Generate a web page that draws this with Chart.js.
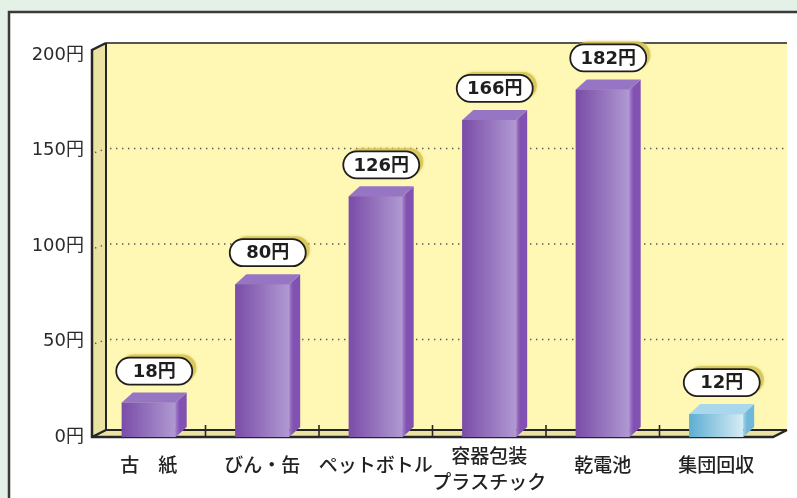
<!DOCTYPE html>
<html>
<head>
<meta charset="utf-8">
<script src="https://cdn.jsdelivr.net/npm/chart.js@4.4.0/dist/chart.umd.min.js"></script>
<style>
    html, body { margin: 0; padding: 0; background: #e3f1e7; }
    #wrap { width: 797px; height: 498px; }
</style>
</head>
<body>
<div id="wrap"><canvas id="RecycleCostChart" width="797" height="498"></canvas></div>
<script>
// data
var categories = ['古　紙', 'びん・缶', 'ペットボトル', ['容器包装', 'プラスチック'], '乾電池', '集団回収'];
var values = [18, 80, 126, 166, 182, 12];
var yTicks = [0, 50, 100, 150, 200];
var barKinds = ['purple', 'purple', 'purple', 'purple', 'purple', 'blue'];

var JP = '"Noto Sans CJK JP", "Noto Sans", sans-serif';
var NUM = '"DejaVu Sans", "Noto Sans CJK JP", sans-serif';
var DX = 14, DY = -7;     // depth of the box
var BDX = 11, BDY = -10;  // depth of the bars

var palette = {
    purple: { left: '#7a4ca8', right: '#b09ad2', side: '#8252b2', sideLight: '#a27ccb', top: '#9676c4' },
    blue: { left: '#5eaed4', right: '#d6ecf4', side: '#70b8da', sideLight: '#9ed2e8', top: '#a9d8ec' }
};

function poly(ctx, pts) {
    ctx.beginPath();
    ctx.moveTo(pts[0][0], pts[0][1]);
    for (var i = 1; i < pts.length; i++) ctx.lineTo(pts[i][0], pts[i][1]);
    ctx.closePath();
}

function pill(ctx, x, y, w, h) {
    var r = h / 2;
    ctx.beginPath();
    ctx.moveTo(x + r, y);
    ctx.lineTo(x + w - r, y);
    ctx.arc(x + w - r, y + r, r, -Math.PI / 2, Math.PI / 2);
    ctx.lineTo(x + r, y + h);
    ctx.arc(x + r, y + r, r, Math.PI / 2, Math.PI * 1.5);
    ctx.closePath();
}

var box3d = {
    id: 'box3d',
    beforeDraw: function (chart) {
        var ctx = chart.ctx, a = chart.chartArea;
        var yScale = chart.scales.y;
        var L = a.left, R = a.right, B = a.bottom, T = a.top - 5;
        ctx.save();
        // page background and white panel
        ctx.fillStyle = '#e3f1e7';
        ctx.fillRect(0, 0, chart.width, chart.height);
        ctx.fillStyle = '#ffffff';
        ctx.fillRect(9, 12, chart.width, chart.height);
        ctx.strokeStyle = '#3a3a3a';
        ctx.lineWidth = 2.5;
        ctx.beginPath();
        ctx.moveTo(9, chart.height + 2);
        ctx.lineTo(9, 12);
        ctx.lineTo(chart.width + 2, 12);
        ctx.stroke();

        // back wall
        ctx.fillStyle = '#fff8b4';
        ctx.fillRect(L + DX, T + DY, R - L, B - T);
        // left wall
        ctx.fillStyle = '#ebe3a2';
        poly(ctx, [[L, T], [L + DX, T + DY], [L + DX, B + DY], [L, B]]);
        ctx.fill();
        // floor
        poly(ctx, [[L, B], [L + DX, B + DY], [R + DX, B + DY], [R, B]]);
        ctx.fill();

        // dotted grid on the back wall
        ctx.strokeStyle = '#555';
        ctx.lineWidth = 1.4;
        ctx.setLineDash([1.4, 4.6]);
        yTicks.forEach(function (v) {
            if (v === 0 || v === 200) return;
            var y = yScale.getPixelForValue(v);
            ctx.beginPath();
            ctx.moveTo(L + DX + 4, y - 2);
            ctx.lineTo(R + DX, y - 2);
            ctx.stroke();
            ctx.beginPath();
            ctx.moveTo(L + 3, y + 2);
            ctx.lineTo(L + DX - 2, y - 1);
            ctx.stroke();
        });
        ctx.setLineDash([]);

        // edges
        ctx.strokeStyle = '#555';
        ctx.lineWidth = 2;
        ctx.beginPath();
        ctx.moveTo(R + DX, T + DY);
        ctx.lineTo(L + DX, T + DY);
        ctx.stroke();
        ctx.strokeStyle = '#262626';
        ctx.beginPath();
        ctx.moveTo(L + DX, T + DY);
        ctx.lineTo(L + DX, B + DY);
        ctx.lineTo(R + DX, B + DY);
        ctx.stroke();
        ctx.lineWidth = 2.5;
        ctx.beginPath();
        ctx.moveTo(L + DX, T + DY);
        ctx.lineTo(L, T);
        ctx.lineTo(L, B);
        ctx.lineTo(R, B);
        ctx.lineTo(R + DX, B + DY);
        ctx.moveTo(L, B);
        ctx.lineTo(L + DX, B + DY);
        ctx.stroke();

        // category ticks on the floor
        ctx.lineWidth = 1.6;
        var step = (R - L) / categories.length;
        for (var i = 1; i < categories.length; i++) {
            var x = L + i * step;
            ctx.beginPath();
            ctx.moveTo(x, B + DY - 5);
            ctx.lineTo(x, B);
            ctx.stroke();
        }
        ctx.restore();
    },
    afterDatasetsDraw: function (chart) {
        var ctx = chart.ctx;
        var meta = chart.getDatasetMeta(0);
        ctx.save();
        meta.data.forEach(function (bar, i) {
            var p = bar.getProps(['x', 'y', 'base', 'width'], true);
            var c = palette[barKinds[i]];
            var x0 = p.x - p.width / 2, x1 = p.x + p.width / 2, top = p.y, bot = p.base;

            var g = ctx.createLinearGradient(x0, 0, x1, 0);
            g.addColorStop(0, c.left);
            g.addColorStop(1, c.right);
            ctx.fillStyle = g;
            ctx.fillRect(x0, top, x1 - x0, bot - top);

            var gs = ctx.createLinearGradient(x1, 0, x1 + BDX, 0);
            gs.addColorStop(0, c.sideLight);
            gs.addColorStop(0.35, c.side);
            gs.addColorStop(1, c.side);
            ctx.fillStyle = gs;
            poly(ctx, [[x1, top], [x1 + BDX, top + BDY], [x1 + BDX, bot + BDY], [x1, bot]]);
            ctx.fill();

            ctx.fillStyle = c.top;
            poly(ctx, [[x0, top], [x0 + BDX, top + BDY], [x1 + BDX, top + BDY], [x1, top]]);
            ctx.fill();

            // value label in a pill
            var w = 76, h = 27;
            var bx = p.x + BDX / 2 - w / 2;
            var by = top + BDY - 8 - h;
            ctx.save();
            ctx.fillStyle = 'rgba(214, 196, 86, 0.85)';
            ctx.shadowColor = 'rgba(214, 196, 86, 0.8)';
            ctx.shadowBlur = 3;
            pill(ctx, bx + 4, by - 3, w, h);
            ctx.fill();
            ctx.restore();
            ctx.fillStyle = '#ffffff';
            ctx.strokeStyle = '#1e1e1e';
            ctx.lineWidth = 1.8;
            pill(ctx, bx, by, w, h);
            ctx.fill();
            ctx.stroke();
            ctx.fillStyle = '#1e1e1e';
            ctx.font = 'bold 18px ' + NUM;
            ctx.textAlign = 'center';
            ctx.textBaseline = 'middle';
            ctx.fillText(values[i] + '円', bx + w / 2, by + h / 2 + 1);
        });
        ctx.restore();
    },
    afterDraw: function (chart) {
        // category names under the floor
        var ctx = chart.ctx, xScale = chart.scales.x;
        ctx.save();
        ctx.fillStyle = '#222';
        ctx.font = '500 19px ' + JP;
        ctx.textAlign = 'center';
        ctx.textBaseline = 'middle';
        categories.forEach(function (label, i) {
            var x = xScale.getPixelForTick(i);
            if (Array.isArray(label)) {
                ctx.fillText(label[0], x, 456);
                ctx.fillText(label[1], x, 482);
            } else {
                ctx.fillText(label, x, 465);
            }
        });
        ctx.restore();
    }
};

new Chart(document.getElementById('RecycleCostChart'), {
    type: 'bar',
    data: {
        labels: categories,
        datasets: [
            {
                data: values,
                backgroundColor: barKinds.map(function (k) { return palette[k].left; }),
                borderWidth: 0,
                categoryPercentage: 1,
                barPercentage: 0.475
            }
        ]
    },
    options: {
        responsive: false,
        animation: false,
        layout: {
            padding: { top: 55, right: 24, left: 0, bottom: 0 }
        },
        plugins: {
            legend: { display: false },
            tooltip: { enabled: false }
        },
        scales: {
            x: {
                grid: { display: false, drawTicks: false },
                border: { display: false },
                afterFit: function (s) { s.height = 61; },
                ticks: { display: false }
            },
            y: {
                min: 0,
                max: 200,
                grid: { display: false, drawTicks: false },
                border: { display: false },
                afterFit: function (s) { s.width = 92; },
                afterBuildTicks: function (s) {
                    s.ticks = yTicks.map(function (v) { return { value: v }; });
                },
                ticks: {
                    color: '#2a2a2a',
                    padding: 8,
                    font: { family: NUM, size: 18 },
                    callback: function (v) { return v + '円'; }
                }
            }
        }
    },
    plugins: [box3d]
});
</script>
</body>
</html>
